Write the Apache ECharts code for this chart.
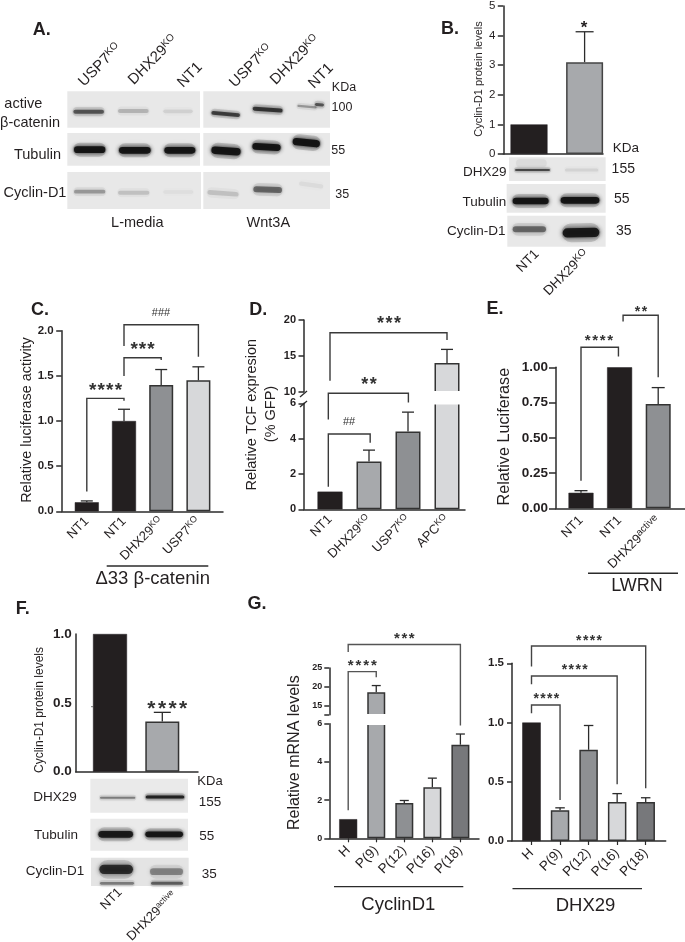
<!DOCTYPE html>
<html><head><meta charset="utf-8">
<script src="https://cdn.jsdelivr.net/npm/echarts@6/dist/echarts.min.js"></script>
<style>html,body{margin:0;padding:0;background:#fff}#c{width:685px;height:942px}</style>
</head><body><div id="c"></div>
<script>
const FONT='"Liberation Sans", Arial, sans-serif';
const INK='#231f20', DARK='#2b2b2b', BLACK='#231f20', G1='#a7a9ac', G2='#8e9093', G3='#d7d8da', G4='#77787b';

// ---------- data ----------
const bCats=['NT1','DHX29{k|KO}'], bValues=[1,3.1], bTops=[null,4.13];
const cCats=['NT1','NT1','DHX29{k|KO}','USP7{k|KO}'], cValues=[0.1,1,1.4,1.45], cTops=[0.115,1.13,1.57,1.6];
const dCats=['NT1','DHX29{k|KO}','USP7{k|KO}','APC{k|KO}'], dValues=[1,2.7,4.4,14], dTops=[null,3.35,5.5,15.9];
const eCats=['NT1','NT1','DHX29{k|active}'], eValues=[0.11,1,0.74], eTops=[0.125,null,0.856];
const fCats=['NT1','DHX29{k|active}'], fValues=[1,0.365], fTops=[null,0.431];
const gCats=['H','P(9)','P(12)','P(16)','P(18)'];
const g1Values=[1,18.5,1.85,2.67,4.9], g1Tops=[null,20.3,1.98,3.15,5.46];
const g2Values=[1,0.26,0.77,0.33,0.33], g2Tops=[null,0.28,0.975,0.40,0.365];
// brackets: [segment, xLeft, xRight, yLeftEnd, yTop, yRightEnd]
const cBrackets=[[0,1,2,0.218,1.251,1.225],[0,2,3,1.498,1.70,1.675],[0,2,4,1.83,2.066,1.712]];
const dBrackets=[[0,0.957,2.03,1.28,4.26,3.77],[0,0.957,3.01,5.09,6.57,6.04],[1,1,4,11.53,18.23,17.2]];
const eBrackets=[[0,1,1.97,0.196,1.142,1.076],[0,2.09,3,1.324,1.369,0.929]];
const g1Brackets=[[1,1,2,-13.1,24.03,22.5],[1,1,5,29.3,31.3,9.6]];
const g2Brackets=[[0,1,2,1.078,1.148,0.346],[0,1,4,1.323,1.393,0.478],[0,1,5,1.472,1.646,0.445]];

// ---------- option containers ----------
const grids=[],xAxes=[],yAxes=[],series=[],graphics=[];

function panel(o){
  const xmin=1-(o.c1-o.axisX)/o.step, xmax=1+(o.axisEnd-o.c1)/o.step;
  const xs=o.values.map((_,i)=>i+1);
  o.segs.forEach((s,si)=>{
    const idx=grids.length;
    grids.push({left:o.axisX,width:o.axisEnd-o.axisX,top:s.top,height:s.bottom-s.top,containLabel:false});
    xAxes.push({gridIndex:idx,type:'value',min:xmin,max:xmax,show:si===0,splitLine:{show:false},
      axisLine:{show:true,onZero:false,lineStyle:{color:DARK,width:1.5}},
      axisTick:{show:!!o.xTicks,customValues:xs,length:4,lineStyle:{color:DARK,width:1.2}},
      axisLabel:{show:!o.noXLabels,customValues:xs,rotate:45,margin:o.xMargin||8,hideOverlap:false,
        formatter:v=>o.cats[Math.round(v)-1],fontFamily:FONT,fontSize:o.xFont||13,color:INK,
        rich:{k:{fontSize:o.kFont||9,fontFamily:FONT,color:INK,padding:[0,0,6,0]}}}});
    yAxes.push({gridIndex:idx,type:'value',min:s.min,max:s.max,splitLine:{show:false},
      axisLine:{show:true,onZero:false,lineStyle:{color:DARK,width:1.5}},
      axisTick:{show:o.yTicks!==false,customValues:s.ticks,length:o.tickLen||5.5,lineStyle:{color:DARK,width:1.5}},
      axisLabel:{customValues:s.labels||s.ticks,margin:o.yMargin||8,fontFamily:FONT,fontSize:o.yFont,
        fontWeight:o.yWeight||'bold',color:INK,hideOverlap:false,
        formatter:v=>(+v).toFixed(o.digits||0)}});
    const rows=o.values.map((v,i)=>[i,v]).filter(r=>si===0?true:(r[1]>s.min&&r[1]<=s.max));
    series.push({type:'bar',xAxisIndex:idx,yAxisIndex:idx,barWidth:o.barW,clip:true,silent:true,z:2,
      data:rows.map(([i,v])=>({value:[i+1,v],itemStyle:{color:o.colors[i],
        borderColor:o.colors[i]===BLACK?BLACK:(o.border||'#333'),borderWidth:o.colors[i]===BLACK?0.5:1.5}}))});
    // error bars
    const errs=o.values.map((v,i)=>[i+1,v,o.tops[i]]).filter(r=>r[2]!=null&&r[1]>=s.min&&r[1]<=s.max);
    series.push({type:'custom',xAxisIndex:idx,yAxisIndex:idx,z:1,silent:true,data:errs,
      renderItem:(p,api)=>{
        const a=api.coord([api.value(0),api.value(1)]),b=api.coord([api.value(0),api.value(2)]);
        return {type:'group',children:[
          {type:'line',shape:{x1:a[0],y1:a[1],x2:b[0],y2:b[1]},style:{stroke:DARK,lineWidth:1.3}},
          {type:'line',shape:{x1:b[0]-o.capW/2,y1:b[1],x2:b[0]+o.capW/2,y2:b[1]},style:{stroke:DARK,lineWidth:1.3}}]};
      }});
    // brackets
    const br=(o.brackets||[]).filter(b=>b[0]===si).map(b=>b.slice(1));
    if(br.length) series.push({type:'custom',xAxisIndex:idx,yAxisIndex:idx,z:3,silent:true,data:br,
      renderItem:(p,api)=>{
        const P=(x,y)=>api.coord([api.value(x),api.value(y)]);
        return {type:'polyline',shape:{points:[P(0,2),P(0,3),P(1,3),P(1,4)]},
          style:{stroke:o.brColor||'#3a3a3a',fill:null,lineWidth:1.4}};
      }});
  });
}

// ---------- bar panels ----------
panel({axisX:503.3,axisEnd:603,c1:529,step:55.6,barW:37,capW:18,cats:bCats,values:bValues,tops:bTops,colors:[BLACK,G1],
  yFont:11.5,yWeight:'normal',digits:0,border:'#444',noXLabels:true,segs:[{min:0,max:5,top:4,bottom:154,ticks:[0,1,2,3,4,5]}]});
panel({axisX:61.7,axisEnd:223,c1:86.8,step:37.2,barW:24,capW:12,cats:cCats,values:cValues,tops:cTops,colors:[BLACK,BLACK,G2,G3],
  yFont:11.5,digits:1,brackets:cBrackets,segs:[{min:0,max:2,top:330.7,bottom:511.3,ticks:[0,0.5,1,1.5,2]}]});
panel({axisX:304,axisEnd:465,c1:330,step:39,barW:25,capW:12,cats:dCats,values:dValues,tops:dTops,colors:[BLACK,G1,G2,G3],
  yFont:11,digits:0,brackets:dBrackets,segs:[{min:0,max:6,top:403.3,bottom:509.3,ticks:[0,2,4,6]},
  {min:10,max:20,top:320,bottom:391.7,ticks:[10,15,20]}]});
panel({axisX:556,axisEnd:685,c1:581,step:38.6,barW:25,capW:13,cats:eCats,values:eValues,tops:eTops,colors:[BLACK,BLACK,G2],
  yFont:13.5,digits:2,tickLen:7,brackets:eBrackets,xFont:13,kFont:10,xMargin:10,segs:[{min:0,max:1,top:367.3,bottom:508.3,ticks:[0,0.25,0.5,0.75,1]}]});
panel({axisX:75.7,axisEnd:198,c1:110,step:52.3,barW:34,capW:17,cats:fCats,values:fValues,tops:fTops,colors:[BLACK,G1],
  yFont:13.5,digits:1,yTicks:false,yMargin:4,noXLabels:true,segs:[{min:0,max:1,top:634,bottom:771.7,ticks:[0,0.5,1]}]});
panel({axisX:329.3,axisEnd:479,c1:348.2,step:28.05,barW:18,capW:9,cats:gCats,values:g1Values,tops:g1Tops,colors:[BLACK,G1,G2,G3,G4],
  yFont:9,digits:0,xTicks:true,tickLen:5,yMargin:7,xMargin:10,xFont:13.5,brackets:g1Brackets,brColor:'#555',
  segs:[{min:0,max:6,top:723.7,bottom:838.3,ticks:[0,2,4,6]},
        {min:12.5,max:25,top:668,bottom:714.7,ticks:[12.5,15,20,25],labels:[15,20,25]}]});
panel({axisX:512,axisEnd:665.7,c1:531.5,step:28.55,barW:18.5,capW:9.5,cats:gCats,values:g2Values,tops:g2Tops,colors:[BLACK,G1,G2,G3,G4],
  yFont:11.5,digits:1,xTicks:true,tickLen:5,xMargin:10,xFont:13.5,brackets:g2Brackets,brColor:'#444',
  segs:[{min:0,max:1.5,top:663.3,bottom:841,ticks:[0,0.5,1,1.5]}]});

// ---------- text helpers ----------
function txt(text,x,y,size,extra){
  const e=extra||{};
  graphics.push({type:'text',x,y,rotation:e.rot||0,z:20,silent:true,style:{text,fill:e.fill||INK,fontFamily:FONT,fontSize:size,
    fontWeight:e.bold?'bold':'normal',align:e.align||'center',verticalAlign:'middle',
    rich:{k:{fontSize:e.k||8.5,fontFamily:FONT,fill:INK,padding:[0,0,6,0]}}}});
}
const R90=Math.PI/2,R45=Math.PI/4;
function stars(n,x,y,size,gap,fill){
  const x0=x-(n-1)*gap/2;
  for(let i=0;i<n;i++) txt('*',x0+i*gap,y+0.2*size,size,{fill:fill||'#333',bold:true});
}
function line(x1,y1,x2,y2,w,col){
  graphics.push({type:'line',z:20,silent:true,shape:{x1,y1,x2,y2},style:{stroke:col||DARK,lineWidth:w||1.5}});
}
function mask(x,y,w,h){ graphics.push({type:'rect',z:15,silent:true,shape:{x,y,width:w,height:h},style:{fill:'#fff'}}); }

// ---------- blots (zoom coordinates: origin + 3x) ----------
function blot(ox,oy,rects,bands){
  const X=v=>ox+v/3,Y=v=>oy+v/3;
  rects.forEach(r=>graphics.push({type:'rect',z:1,silent:true,
    shape:{x:X(r[0]),y:Y(r[1]),width:(r[2]-r[0])/3,height:(r[3]-r[1])/3},style:{fill:r[4]||'#e8e8e8'}}));
  bands.forEach(b=>{
    const [x1,x2,yc,th,al,tilt]=b, cx=X((x1+x2)/2), cy=Y(yc), w=(x2-x1)/3, h=th/3;
    const rot=(tilt||0)*Math.PI/180, blur=(b[6]||3)+1.5;
    const halo='rgba(18,18,18,'+(al*0.18).toFixed(3)+')', col='rgba(18,18,18,'+al+')';
    graphics.push({type:'rect',z:2,silent:true,x:cx,y:cy,rotation:rot,
      shape:{x:-w/2-1,y:-h*0.9-1,width:w+2,height:h*1.8+2,r:h*0.9+1},
      style:{fill:halo,shadowColor:halo,shadowBlur:6}});
    graphics.push({type:'rect',z:3,silent:true,x:cx,y:cy,rotation:rot,
      shape:{x:-w/2,y:-h/2,width:w,height:h,r:h/2},
      style:{fill:col,shadowColor:col,shadowBlur:blur}});
  });
}
blot(0,0,[[202,274,600,383],[610,274,990,383],[202,399,600,497],[610,399,990,497],[202,516,603,627],[610,516,990,627]],[
  [220,312,335,12,.58,0],[354,446,333,12,.2,0],[490,578,334,11,.09,0],
  [634,720,342,11,.68,-5,2],[758,848,329,12,.74,-4],[892,950,320,7,.32,-5],[945,972,314,9,.6,-5],
  [222,316,449,20,.95,0],[357,452,451,20,.95,0],[493,586,451,20,.95,0],
  [634,722,453,22,.95,-4],[757,842,441,20,.95,-3],[878,960,428,22,.96,-6],
  [222,316,575,11,.3,0],[354,448,578,12,.15,0],[490,580,576,11,.04,0],
  [622,716,580,14,.15,-4,5],[760,846,569,18,.5,-2],[897,970,555,13,.05,-8,5]]);
blot(430,0,[[237,472,527,543],[230,552,527,638],[232,647,527,740]],[
  [255,360,510,6,.65,0,2],[258,350,490,24,.05,0,5],[405,505,510,9,.08,0,4],
  [248,356,603,20,.95,0],[392,508,601,20,.95,0],
  [248,348,688,18,.5,0,4],[398,508,698,28,.92,1,4]]);
blot(0,600,[[271,536,564,638,'#eaeaea'],[271,656,564,752,'#eaeaea'],[273,773,566,858,'#e4e4e4']],[
  [300,406,593,6,.42,0,2],[437,553,591,9,.85,0,2],
  [295,399,703,20,.9,0,3],[436,549,703,17,.94,0,3],
  [298,399,808,28,.78,0,4],[450,549,815,20,.38,0,4],[300,402,850,8,.42,0,3],[453,549,850,9,.55,0,3]]);

// ---------- panel letters ----------
[['A.',41.7,30],['B.',450,29.3],['C.',40,310],['D.',258.3,310],['E.',495,309.3],['F.',22.7,609.3],['G.',257,604]]
  .forEach(l=>txt(l[0],l[1],l[2],18,{bold:true}));

// ---------- panel A text ----------
txt('USP7{k|KO}',100,65,15,{rot:R45,k:10});
txt('DHX29{k|KO}',153,60,15,{rot:R45,k:10});
txt('NT1',190,75,15,{rot:R45});
txt('USP7{k|KO}',251,66,15,{rot:R45,k:10});
txt('DHX29{k|KO}',295,60,15,{rot:R45,k:10});
txt('NT1',321,76,15,{rot:R45});
txt('KDa',344,87.7,12.5); txt('100',342,107.3,12.5); txt('55',338.3,150.7,12.5); txt('35',342.3,194.3,12.5);
txt('active',23.3,104.3,14.5); txt('β-catenin',30,122.7,14.5); txt('Tubulin',37.5,154.5,14.5); txt('Cyclin-D1',35,192.7,14.5);
txt('L-media',137.3,222.7,14.5); txt('Wnt3A',268.3,223.3,14.5);

// ---------- panel B text ----------
txt('Cyclin-D1 protein levels',479,79,11,{rot:R90});
stars(1,584,25,17,0,INK);
txt('KDa',626,148,13.5); txt('155',623.3,169.3,14); txt('55',621.7,199,14); txt('35',623.7,230.7,14);
txt('DHX29',484.7,172.7,13.5); txt('Tubulin',484.3,202.3,13.5); txt('Cyclin-D1',476.3,231.7,13.5);
txt('NT1',528,261,13.5,{rot:R45}); txt('DHX29{k|KO}',566.5,273,13.5,{rot:R45,k:10});

// ---------- panel C text ----------
txt('Relative luciferase activity',27.3,420,14.4,{rot:R90});
stars(4,105.5,387,19,8.6); stars(3,142.5,345.5,19,8.4); txt('###',161,313,11,{fill:'#333'});
line(106.7,566,208.3,566,1.5); txt('Δ33 β-catenin',152.7,579.3,18.5);

// ---------- panel D text ----------
txt('Relative TCF expresion',252,414.7,14.5,{rot:R90}); txt('(% GFP)',270.5,414,14.5,{rot:R90});
stars(3,389,320.5,18,8.6); stars(2,369,381,18,8.3); txt('##',349,422,11,{fill:'#333'});
line(300,397,307,391,1.3); line(300,407,307,401,1.3);
mask(433,391,28,13.5);

// ---------- panel E text ----------
txt('Relative Luciferase',505,436.7,16.2,{rot:R90});
stars(4,599,338,15,7.5); stars(2,641,309,14,7);
line(588,573.3,678,573.3,1.5); txt('LWRN',637,586,18);

// ---------- panel F text ----------
txt('Cyclin-D1 protein levels',40,710,12,{rot:R90});
stars(4,167.3,705,21,10.6);
line(91.5,706.7,92.5,706.7,1.2);
txt('KDa',210,781.7,13); txt('155',210,802.7,13.5); txt('55',206.7,836,13.5); txt('35',209.3,874,13.5);
txt('DHX29',55,797.3,13.5); txt('Tubulin',56,835,13.5); txt('Cyclin-D1',55,871.7,13.5);
txt('NT1',111.5,899,13,{rot:R45}); txt('DHX29{k|active}',152,916,13,{rot:R45,k:8.5});

// ---------- panel G text ----------
txt('Relative mRNA levels',294.3,752.7,16,{rot:R90});
stars(4,362.3,663.3,15,7.7); stars(3,404.3,636,15,7.4);
line(334,886.7,463.3,886.7,1.3); txt('CyclinD1',398.3,905,18.5);
mask(365,714,22,11);
stars(4,546.3,696.7,14,6.8); stars(4,574.7,667.7,14,6.8); stars(4,589,638.3,14,6.8);
line(512.5,888.7,642,888.7,1.3); txt('DHX29',585.5,906,18.5);

echarts.init(document.getElementById('c'),null,{renderer:'canvas'}).setOption({
  animation:false,backgroundColor:'#fff',tooltip:{show:false},
  grid:grids,xAxis:xAxes,yAxis:yAxes,series,graphic:{elements:graphics}
});
</script></body></html>
